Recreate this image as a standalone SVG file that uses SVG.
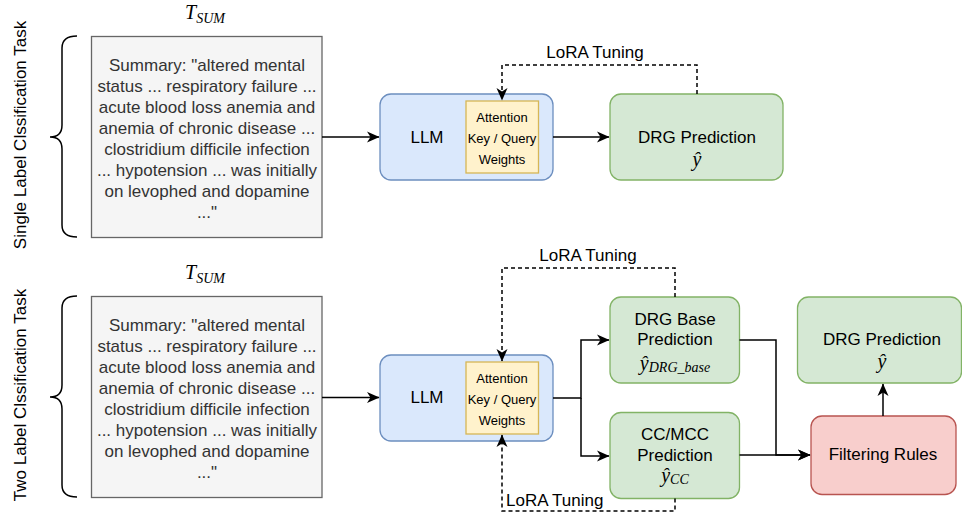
<svg xmlns="http://www.w3.org/2000/svg" width="962" height="513" viewBox="0 0 962 513">
<defs>
<marker id="arr" markerWidth="14" markerHeight="12" refX="12" refY="6" orient="auto" markerUnits="userSpaceOnUse">
<path d="M0,0.5 L12.5,6 L0,11.5 L3.5,6 z" fill="#000"/>
</marker>
<style>
.t{font-family:"Liberation Sans",Arial,sans-serif;font-size:17px;fill:#000;text-anchor:middle}
.g{font-family:"Liberation Sans",Arial,sans-serif;font-size:17px;fill:#333;text-anchor:middle}
.s{font-family:"Liberation Sans",Arial,sans-serif;font-size:13px;fill:#000;text-anchor:middle}
.m{font-family:"Liberation Serif","Times New Roman",serif;font-style:italic;fill:#000;text-anchor:middle}
.txt{fill:#f5f5f5;stroke:#666;stroke-width:1.3}
.llm{fill:#dae8fc;stroke:#6c8ebf;stroke-width:1.3}
.att{fill:#fff2cc;stroke:#d6b656;stroke-width:1.3}
.grn{fill:#d5e8d4;stroke:#82b366;stroke-width:1.3}
.red{fill:#f8cecc;stroke:#b85450;stroke-width:1.3}
.c{fill:none;stroke:#000;stroke-width:1.5}
.d{fill:none;stroke:#000;stroke-width:1.5;stroke-dasharray:4 3}
.br{fill:none;stroke:#000;stroke-width:1.5}
</style>
</defs>

<g id="label-single">
<text class="t" transform="translate(26,135) rotate(-90)">Single Label Clssification Task</text>
<path class="br" d="M77,36 Q62,36 62,48 L62,125 Q62,137 50,137 Q62,137 62,149 L62,225 Q62,237 77,237"/>
</g>
<g id="label-two">
<text class="t" transform="translate(26,395) rotate(-90)">Two Label Clssification Task</text>
<path class="br" d="M77,296 Q62,296 62,308 L62,385 Q62,397 50,397 Q62,397 62,409 L62,485 Q62,497 77,497"/>
</g>

<g id="tsum-top">
<text class="m" x="205" y="19"><tspan font-size="20">T</tspan><tspan font-size="14" dy="4">SUM</tspan></text>
</g>
<g id="tsum-bottom">
<text class="m" x="205" y="279"><tspan font-size="20">T</tspan><tspan font-size="14" dy="4">SUM</tspan></text>
</g>

<g id="summary-top">
<rect class="txt" x="91.5" y="36.5" width="230.5" height="201"/>
<text class="g" x="207" y="71">Summary: "altered mental</text>
<text class="g" x="207" y="92">status ... respiratory failure ...</text>
<text class="g" x="207" y="113">acute blood loss anemia and</text>
<text class="g" x="207" y="134">anemia of chronic disease ...</text>
<text class="g" x="207" y="155">clostridium difficile infection</text>
<text class="g" x="207" y="176">... hypotension ... was initially</text>
<text class="g" x="207" y="197">on levophed and dopamine</text>
<text class="g" x="207" y="218">..."</text>
</g>

<g id="summary-bottom">
<rect class="txt" x="91.5" y="296.5" width="230.5" height="201"/>
<text class="g" x="207" y="331">Summary: "altered mental</text>
<text class="g" x="207" y="352">status ... respiratory failure ...</text>
<text class="g" x="207" y="373">acute blood loss anemia and</text>
<text class="g" x="207" y="394">anemia of chronic disease ...</text>
<text class="g" x="207" y="415">clostridium difficile infection</text>
<text class="g" x="207" y="436">... hypotension ... was initially</text>
<text class="g" x="207" y="457">on levophed and dopamine</text>
<text class="g" x="207" y="478">..."</text>
</g>

<g id="llm-top">
<rect class="llm" x="380" y="94" width="173" height="86" rx="11"/>
<text class="t" x="427" y="143">LLM</text>
<rect class="att" x="466" y="101" width="72.5" height="72"/>
<text class="s" x="502" y="122">Attention</text>
<text class="s" x="502" y="142.5">Key / Query</text>
<text class="s" x="502" y="163.5">Weights</text>
</g>

<g id="drg-top">
<rect class="grn" x="610" y="94" width="173" height="86" rx="11"/>
<text class="t" x="697" y="142.5">DRG Prediction</text>
<text class="m" x="697" y="166" font-size="20">ŷ</text>
</g>

<g id="llm-bottom">
<rect class="llm" x="380" y="355" width="173" height="86" rx="11"/>
<text class="t" x="427" y="403">LLM</text>
<rect class="att" x="466" y="362" width="72.5" height="72"/>
<text class="s" x="502" y="383">Attention</text>
<text class="s" x="502" y="403.5">Key / Query</text>
<text class="s" x="502" y="425">Weights</text>
</g>

<g id="drg-base">
<rect class="grn" x="610" y="297" width="129.5" height="86" rx="11"/>
<text class="t" x="675" y="325">DRG Base</text>
<text class="t" x="675" y="345">Prediction</text>
<text class="m" x="675" y="370"><tspan font-size="20">ŷ</tspan><tspan font-size="14" dy="2">DRG_base</tspan></text>
</g>

<g id="ccmcc">
<rect class="grn" x="610" y="412.5" width="129.5" height="86" rx="11"/>
<text class="t" x="675" y="440">CC/MCC</text>
<text class="t" x="675" y="461">Prediction</text>
<text class="m" x="675" y="482"><tspan font-size="20">ŷ</tspan><tspan font-size="14" dy="2">CC</tspan></text>
</g>

<g id="filtering">
<rect class="red" x="811" y="416" width="145" height="78.5" rx="11"/>
<text class="t" x="883" y="460">Filtering Rules</text>
</g>

<g id="drg-final">
<rect class="grn" x="797.5" y="297" width="164" height="86" rx="11"/>
<text class="t" x="882" y="345">DRG Prediction</text>
<text class="m" x="882" y="368" font-size="20">ŷ</text>
</g>

<g id="connectors">
<path class="c" d="M322,137 L379,137" marker-end="url(#arr)"/>
<path class="c" d="M553,137 L609,137" marker-end="url(#arr)"/>
<path class="d" d="M697,94 L697,65 L502,65 L502,100" marker-end="url(#arr)"/>
<path class="c" d="M322,397.5 L379,397.5" marker-end="url(#arr)"/>
<path class="c" d="M553,398 L581,398 L581,340 L609,340" marker-end="url(#arr)"/>
<path class="c" d="M581,398 L581,456 L609,456" marker-end="url(#arr)"/>
<path class="d" d="M675,297 L675,268 L502,268 L502,361" marker-end="url(#arr)"/>
<path class="d" d="M675,498.5 L675,511 L502,511 L502,435" marker-end="url(#arr)"/>
<path class="c" d="M739.5,340 L776,340 L776,455 L810,455" marker-end="url(#arr)"/>
<path class="c" d="M739.5,455 L810,455" marker-end="url(#arr)"/>
<path class="c" d="M883,416 L883,384" marker-end="url(#arr)"/>
<text class="t" x="595" y="57.5" font-size="16.5">LoRA Tuning</text>
<text class="t" x="588" y="261" font-size="16.5">LoRA Tuning</text>
<text class="t" x="506" y="506" font-size="16.5" text-anchor="start" style="text-anchor:start">LoRA Tuning</text>
</g>
</svg>
